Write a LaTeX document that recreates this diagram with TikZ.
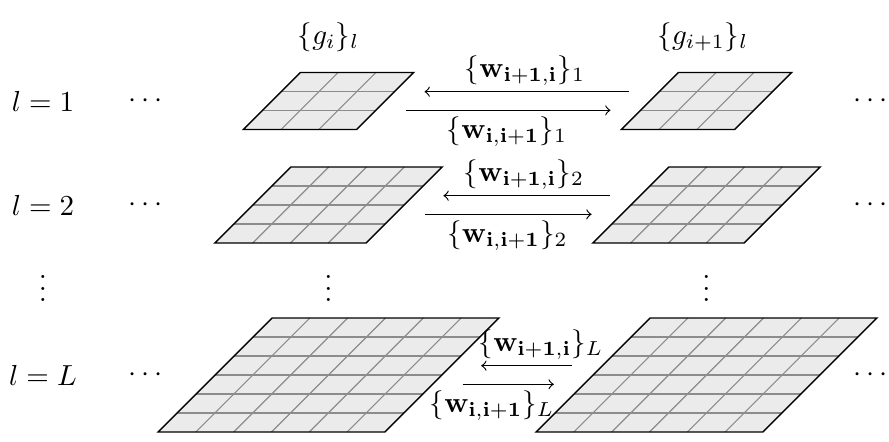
\documentclass[tikz,border=0pt]{standalone}
\usepackage{amsmath,amssymb}
\usepackage{tikz}
\usetikzlibrary{calc}

\tikzset{
  cellfill/.style={fill=black!8},
  cellline/.style={draw=black!45, line width=0.4pt},
  gridedge/.style={draw=black, line width=0.5pt},
  wlabel/.style={inner sep=2pt},
}

\begin{document}
\begin{tikzpicture}[x=0.345pt,y=-0.345pt]
    \useasboundingbox (0,0) rectangle (889,441);
    % column heads
    \node (gi) at (328.5,37) {$\{g_i\}_l$};
    \node (gii) at (703,37) {$\{g_{i+1}\}_l$};
    % one row per layer: centre y / cells / name / label x up / label x down
    \foreach \cy/\n/\k/\ux/\lx in {101/3/1/525/507, 205/4/2/524/507.5, 375/6/L/541/492} {
        \node (lay\k) at (43,\cy) {$l=\k$};
        \node (ldots\k) at (148,\cy) {$\cdots$};
        \node (rdots\k) at (873,\cy) {$\cdots$};
        \foreach \cx in {328.5,706.5} {
            \begin{scope}[shift={(\cx,\cy)}, x={(13.04pt,0pt)}, y={(6.555pt,6.555pt)}]
                \pgfmathsetmacro\h{\n/2}
                \pgfmathtruncatemacro\m{\n-1}
                \fill [cellfill] (-\h,-\h) -- (\h,-\h) -- (\h,\h) -- (-\h,\h) -- cycle;
                \foreach \i in {1,...,\m} { \draw [cellline] (-\h+\i,-\h) -- (-\h+\i,\h); }
                \foreach \i in {1,...,\m} { \draw [cellline] (-\h,-\h+\i) -- (\h,-\h+\i); }
                \draw [gridedge] (-\h,-\h) -- (\h,-\h) -- (\h,\h) -- (-\h,\h) -- cycle;
            \end{scope}
        }
        % arrow ends, 30px off the grid edges
        \coordinate (ua\k) at (328.5+\n*18.9+39.3, \cy-9.3);
        \coordinate (ub\k) at (706.5-\n*18.9-20.7, \cy-9.3);
        \coordinate (da\k) at (328.5+\n*18.9+20.7, \cy+9.3);
        \coordinate (db\k) at (706.5-\n*18.9-39.3, \cy+9.3);
        \draw [<-] (ua\k) -- (ub\k);
        \draw [->] (da\k) -- (db\k);
        \node [wlabel, above] (wup\k) at (\ux,\cy-9.3) {$\{\mathbf{w}_{\mathbf{i+1,i}}\}_\k$};
        \node [wlabel, below] (wdn\k) at (\lx,\cy+9.3) {$\{\mathbf{w}_{\mathbf{i,i+1}}\}_\k$};
    }
    % skipped layers
    \node (vd0) at (43,280) {$\vdots$};
    \node (vd1) at (328.5,280) {$\vdots$};
    \node (vd2) at (706.5,280) {$\vdots$};
\end{tikzpicture}
\end{document}
